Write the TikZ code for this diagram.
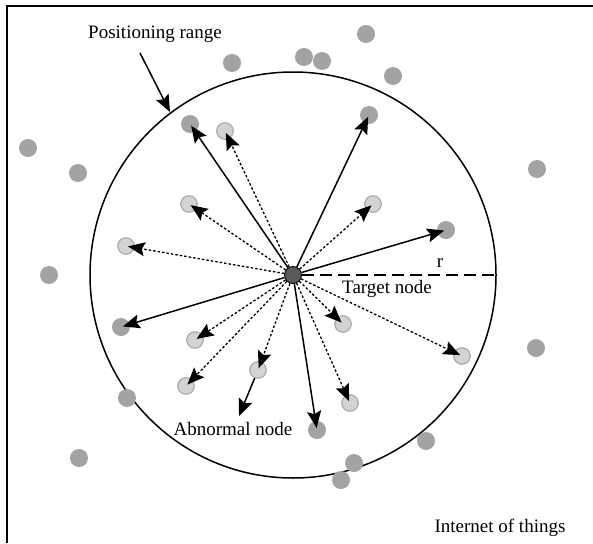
\documentclass[tikz,border=0pt]{standalone}
\usepackage{fontspec}
\setmainfont{Liberation Serif}
\usetikzlibrary{arrows.meta}
\definecolor{nodegray}{HTML}{A3A3A3}
\definecolor{lightfill}{HTML}{D3D3D3}
\definecolor{lightedge}{HTML}{ABABAB}
\definecolor{targetfill}{HTML}{5A5A5A}
\tikzset{
  darknode/.style={circle, fill=nodegray, minimum size=18pt, inner sep=0pt},
  lightnode/.style={circle, fill=lightfill, draw=lightedge, line width=1.2pt, minimum size=16.5pt, inner sep=0pt},
  targetnode/.style={circle, fill=targetfill, draw=black, line width=0.9pt, minimum size=17pt, inner sep=0pt},
  tip/.style={-{Stealth[length=17pt,width=14pt,inset=3pt]}},
  solidarrow/.style={tip, line width=1.5pt, shorten >=2pt},
  dotarrow/.style={tip, line width=1.3pt, dash pattern=on 2.5pt off 2pt, shorten >=2pt},
  lbl/.style={font=\fontsize{19}{22}\selectfont, inner sep=0pt}
}
\begin{document}
\begin{tikzpicture}[x=1pt,y=-1pt]
\useasboundingbox (0,0) rectangle (593,543);
\fill[white] (0,0) rectangle (593,543);
% frame
\draw[line width=1.8pt] (7,543) -- (7,6) -- (593,6);
% target and positioning range
\node[targetnode] (t) at (293,275) {};
\draw[line width=1.5pt] (t.center) circle[radius=203pt];
\coordinate (redge) at (496,275);
\draw[line width=1.5pt, dash pattern=on 12pt off 6pt] (t) -- (redge);
% outside nodes
\node[darknode] (o1) at (366,34) {};
\node[darknode] (o2) at (304,57) {};
\node[darknode] (o3) at (322,61) {};
\node[darknode] (o4) at (232,63) {};
\node[darknode] (o5) at (393,76) {};
\node[darknode] (o6) at (28,148) {};
\node[darknode] (o7) at (78,173) {};
\node[darknode] (o8) at (537,169) {};
\node[darknode] (o9) at (49,275) {};
\node[darknode] (o10) at (536,348) {};
\node[darknode] (o11) at (127,398) {};
\node[darknode] (o12) at (79,458) {};
\node[darknode] (o13) at (426,441) {};
\node[darknode] (o14) at (354,463) {};
\node[darknode] (o15) at (341,480) {};
% inside dark nodes
\node[darknode] (d1) at (190,124) {};
\node[darknode] (d2) at (369,115) {};
\node[darknode] (d3) at (446,230) {};
\node[darknode] (d4) at (121,327) {};
\node[darknode] (d5) at (317,430) {};
% inside light nodes
\node[lightnode] (l1) at (225,131) {};
\node[lightnode] (l2) at (189,204) {};
\node[lightnode] (l3) at (373,204) {};
\node[lightnode] (l4) at (126,246) {};
\node[lightnode] (l5) at (195,340) {};
\node[lightnode] (l6) at (343,324) {};
\node[lightnode] (l7) at (186,386) {};
\node[lightnode] (l8) at (258,370) {};
\node[lightnode] (l9) at (350,403) {};
\node[lightnode] (l10) at (462,356) {};
% arrows
\foreach \n in {d1,d2,d3,d4,d5}
  \draw[solidarrow] (t) -- (\n.center);
\foreach \n in {l1,l2,l3,l4,l5,l6,l7,l8,l9,l10}
  \draw[dotarrow] (t) -- (\n.center);
\coordinate (abend) at (239,416);
\draw[solidarrow, shorten >=0pt] (l8) -- (abend);
\coordinate (prstart) at (140,53);
\coordinate (prend) at (170,112);
\draw[solidarrow, shorten >=0pt] (prstart) -- (prend);
% labels
\node[lbl] (prl) at (155,34) {Positioning range};
\node[lbl] (rl) at (440,263) {r};
\node[lbl] (tl) at (387,289) {Target node};
\node[lbl] (al) at (233,429) {Abnormal node};
\node[lbl] (il) at (500,528) {Internet of things};
\end{tikzpicture}
\end{document}
